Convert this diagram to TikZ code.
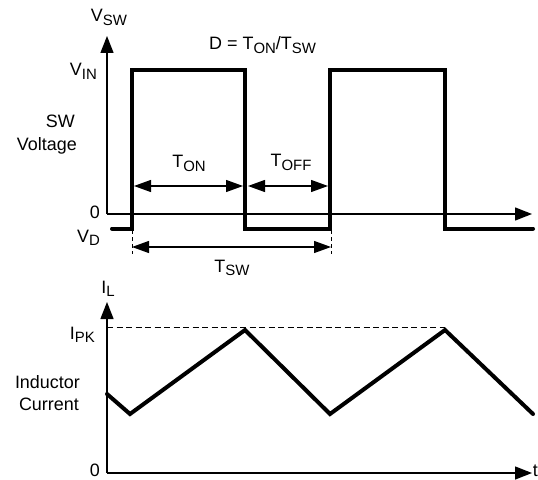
\documentclass[tikz,border=0pt]{standalone}
\usepackage{fontspec}
\setmainfont{Liberation Sans}
\usetikzlibrary{arrows.meta}
\newcommand{\lsub}[1]{\raisebox{-0.22em}{\fontsize{15}{15}\selectfont #1}}
\begin{document}
\begin{tikzpicture}[x=1bp,y=-1bp,
 lbl/.style={inner sep=0pt, font=\fontsize{18}{21}\selectfont},
 axis/.style={line width=1.4bp, -{Triangle[length=17bp,width=13bp]}},
 wave/.style={line width=4bp, line join=miter, line cap=round},
 dim/.style={line width=1.3bp, {Triangle[length=17bp,width=12bp]}-{Triangle[length=17bp,width=12bp]}},
 guide/.style={line width=1bp, dash pattern=on 6bp off 3.5bp},
 vguide/.style={line width=1bp, dash pattern=on 4bp off 3bp}]
\useasboundingbox (0,0) rectangle (538,480);
% ---------- top plot ----------
\coordinate (o1) at (107,214);
\coordinate (y1) at (107,36);
\coordinate (x1) at (532,214);
\draw[axis] (o1) -- (y1);
\draw[axis] (o1) -- (x1);
\coordinate (w0) at (112,228.5);
\coordinate (w1) at (132,228.5);
\coordinate (w2) at (132,70);
\coordinate (w3) at (245,70);
\coordinate (w4) at (245,228.5);
\coordinate (w5) at (330,228.5);
\coordinate (w6) at (330,70);
\coordinate (w7) at (445,70);
\coordinate (w8) at (445,228.5);
\coordinate (w9) at (533,228.5);
\draw[wave] (w0) -- (w1) -- (w2) -- (w3) -- (w4) -- (w5) -- (w6) -- (w7) -- (w8) -- (w9);
% dimension arrows
\coordinate (ta) at (134,186);
\coordinate (tb) at (243,186);
\coordinate (tc) at (248,186);
\coordinate (td) at (328,186);
\draw[dim] (ta) -- (tb);
\draw[dim] (tc) -- (td);
\coordinate (g1t) at (132,230);
\coordinate (g1b) at (132,254);
\coordinate (g2t) at (331,230);
\coordinate (g2b) at (331,254);
\draw[vguide] (g1t) -- (g1b);
\draw[vguide] (g2t) -- (g2b);
\coordinate (sa) at (132,247);
\coordinate (sb) at (331,247);
\draw[dim] (sa) -- (sb);
% labels
\node[lbl, anchor=base] (vsw) at (109,22) {V\lsub{SW}};
\node[lbl, anchor=base west] (duty) at (209,50) {D = T\lsub{ON}/T\lsub{SW}};
\node[lbl, anchor=base east] (vin) at (97,76) {V\lsub{IN}};
\node[lbl, anchor=base east] (sw) at (75,128) {SW};
\node[lbl, anchor=base east] (volt) at (77,151) {Voltage};
\node[lbl, anchor=base] (ton) at (189,168) {T\lsub{ON}};
\node[lbl, anchor=base] (toff) at (291,167) {T\lsub{OFF}};
\node[lbl, anchor=base east] (z1) at (100,218) {0};
\node[lbl, anchor=base east] (vd) at (100,242) {V\lsub{D}};
\node[lbl, anchor=base] (tsw) at (232,272) {T\lsub{SW}};
% ---------- bottom plot ----------
\coordinate (o2) at (107,473);
\coordinate (y2) at (107,302);
\coordinate (x2) at (532,473);
\draw[axis] (o2) -- (y2);
\draw[axis] (o2) -- (x2);
\coordinate (pk0) at (107,327);
\coordinate (pk1) at (445,327);
\draw[guide] (pk0) -- (pk1);
\coordinate (i0) at (107,394);
\coordinate (i1) at (130,414);
\coordinate (i2) at (245,330);
\coordinate (i3) at (330,414);
\coordinate (i4) at (445,330);
\coordinate (i5) at (533,414);
\draw[wave] (i0) -- (i1) -- (i2) -- (i3) -- (i4) -- (i5);
\node[lbl, anchor=base] (il) at (108,293) {I\lsub{L}};
\node[lbl, anchor=base east] (ipk) at (95,339) {I\lsub{PK}};
\node[lbl, anchor=base east] (ind) at (80,388) {Inductor};
\node[lbl, anchor=base east] (cur) at (79,410) {Current};
\node[lbl, anchor=base east] (z2) at (100,476.5) {0};
\node[lbl, anchor=base east] (t) at (538,476.5) {t};
\end{tikzpicture}
\end{document}
